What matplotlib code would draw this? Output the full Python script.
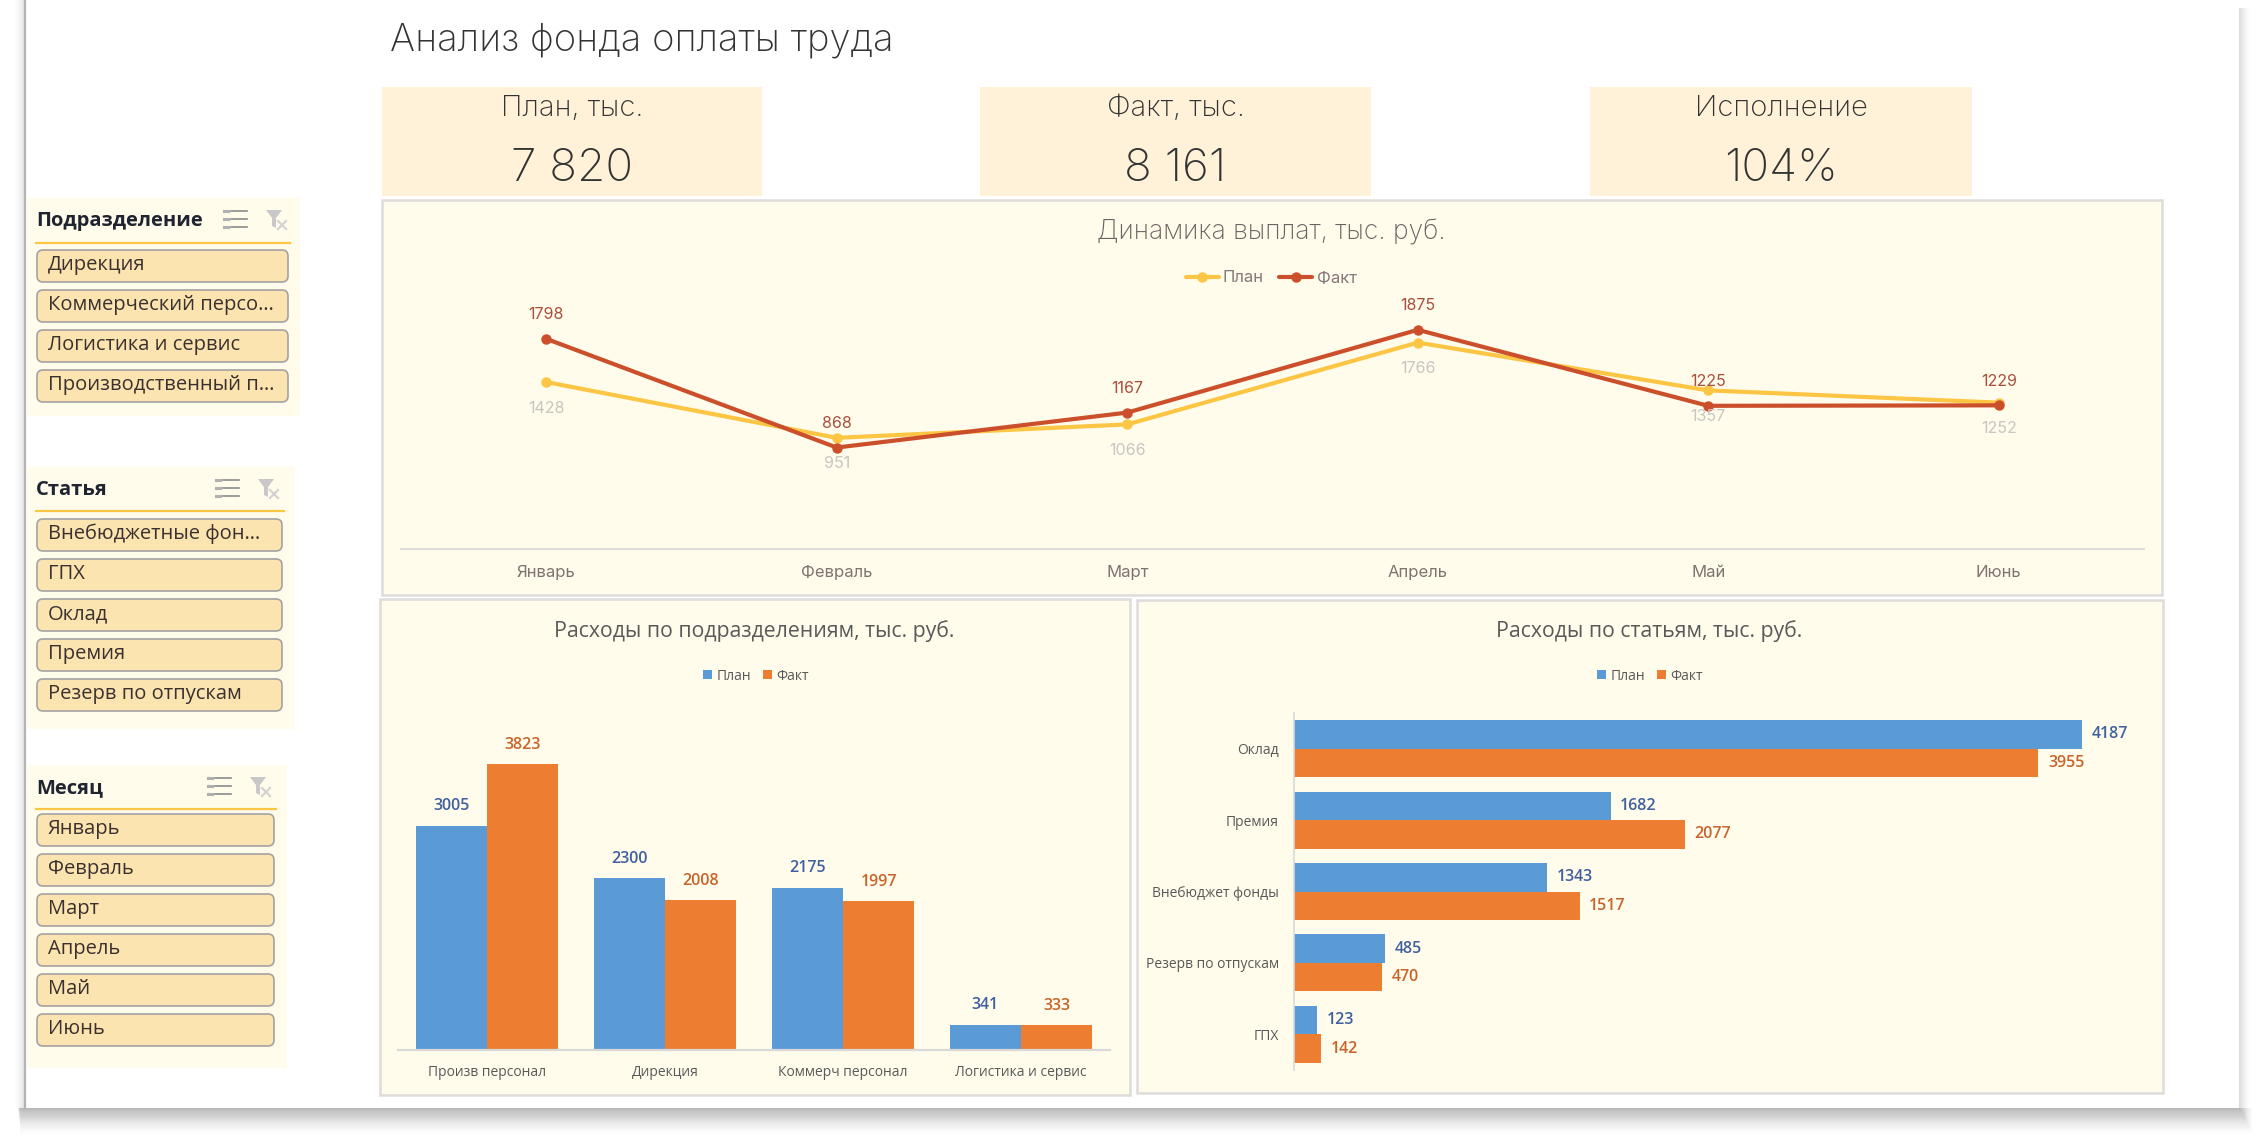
import numpy as np
import matplotlib
matplotlib.use('Agg')
import matplotlib.pyplot as plt
from matplotlib.patches import Rectangle, FancyBboxPatch, Polygon

# DATA
meses = ['Январь', 'Февраль', 'Март', 'Апрель', 'Май', 'Июнь']
plan_mes = [1428, 951, 1066, 1766, 1357, 1252]
fakt_mes = [1798, 868, 1167, 1875, 1225, 1229]

podrazd = ['Произв персонал', 'Дирекция', 'Коммерч персонал', 'Логистика и сервис']
plan_podrazd = [3005, 2300, 2175, 341]
fakt_podrazd = [3823, 2008, 1997, 333]

stati = ['Оклад', 'Премия', 'Внебюджет фонды', 'Резерв по отпускам', 'ГПХ']
plan_stati = [4187, 1682, 1343, 485, 123]
fakt_stati = [3955, 2077, 1517, 470, 142]

kpi_names = ['План, тыс.', 'Факт, тыс.', 'Исполнение']
kpi_values = ['7 820', '8 161', '104%']

slicer_titles = ['Подразделение', 'Статья', 'Месяц']
slicer_1 = ['Дирекция', 'Коммерческий персо…', 'Логистика и сервис', 'Производственный п…']
slicer_2 = ['Внебюджетные фон…', 'ГПХ', 'Оклад', 'Премия', 'Резерв по отпускам']
slicer_3 = ['Январь', 'Февраль', 'Март', 'Апрель', 'Май', 'Июнь']

# COLORES
AZUL = '#5b9bd5'
NARANJA = '#ed7d31'
AMARILLO = '#fcc644'
ROJO = '#cc4f2c'
FONDO = '#fffcec'
BORDE = '#dedcdc'
FONT_KPI = 'Inter'
FONT_OFFICE = 'Open Sans'

W, H = 2256, 1140
fig = plt.figure(figsize=(W / 100, H / 100), dpi=100, facecolor='white')

# capa de fondo en pixeles
bg = fig.add_axes([0, 0, 1, 1], zorder=0)
bg.set_xlim(0, W)
bg.set_ylim(H, 0)
bg.axis('off')


def panel_axes(x0, y0, x1, y1):
    ax = fig.add_axes([x0 / W, 1 - y1 / H, (x1 - x0) / W, (y1 - y0) / H], zorder=2)
    ax.patch.set_alpha(0)
    for s in ax.spines.values():
        s.set_visible(False)
    ax.tick_params(length=0)
    return ax


# SOMBRA DE LA HOJA
for i in range(28):
    a = 0.03 * (1 - i / 28)
    bg.add_patch(Rectangle((18 + i * 0.1, 1108), 2222 + i * 0.4, i + 1, fc='#555555', ec='none', alpha=a))
for i in range(12):
    a = 0.03 * (1 - i / 12)
    bg.add_patch(Rectangle((2239, 8), i + 1, 1100, fc='#555555', ec='none', alpha=a))
    bg.add_patch(Rectangle((25 - i, 0), i + 1, 1108, fc='#555555', ec='none', alpha=a))
bg.plot([25, 25], [0, 1108], c='#b4b4b4', lw=1.6)
bg.add_patch(Rectangle((26, 0), 2213, 1108, fc='white', ec='none'))

# TITULO
bg.text(390, 40, 'Анализ фонда оплаты труда', family=FONT_KPI, weight='light', fontsize=27.5,
        color='#333333', va='center', ha='left')

# KPI
kpi_boxes = [(382, 762), (980, 1371), (1590, 1972)]
for (x0, x1), nombre, valor in zip(kpi_boxes, kpi_names, kpi_values):
    bg.add_patch(Rectangle((x0, 87), x1 - x0, 109, fc='#fff2d9', ec='none'))
    bg.text((x0 + x1) / 2, 109, nombre, family=FONT_KPI, weight='light', fontsize=21,
            color='#333333', ha='center', va='center')
    bg.text((x0 + x1) / 2, 169, valor, family=FONT_KPI, weight='light', fontsize=33,
            color='#333333', ha='center', va='center')

# PANELES
for x0, y0, x1, y1 in [(382, 200, 2162, 595), (380, 599, 1130, 1095), (1137, 600, 2163, 1093)]:
    bg.add_patch(Rectangle((x0, y0), x1 - x0, y1 - y0, fc=FONDO, ec=BORDE, lw=1.8))

bg.text(1271, 232, 'Динамика выплат, тыс. руб.', family=FONT_KPI, weight='light', fontsize=19,
        color='#6f6163', ha='center', va='center')
bg.text(754, 631, 'Расходы по подразделениям, тыс. руб.', family=FONT_OFFICE, fontsize=15.3,
        color='#595959', ha='center', va='center')
bg.text(1649, 631, 'Расходы по статьям, тыс. руб.', family=FONT_OFFICE, fontsize=15.3,
        color='#595959', ha='center', va='center')


# SLICERS
def slicer(titulo, items, bx1, by0, by1, xr, head_y, line_y, first_y, ico_x):
    bg.add_patch(Rectangle((27, by0), bx1 - 27, by1 - by0, fc=FONDO, ec='none'))
    bg.text(36, head_y + 2, titulo, family=FONT_OFFICE, weight='bold', fontsize=14.5, color='#1f2430',
            ha='left', va='center')
    bg.plot([36, xr + 1], [line_y, line_y], c=AMARILLO, lw=1.6)
    for k, item in enumerate(items):
        y = first_y + 40 * k
        bg.add_patch(FancyBboxPatch((37, y + 1), xr - 38, 32, boxstyle='round,pad=0,rounding_size=6',
                                    fc='#fce4b0', ec='#a3a3a3', lw=1.2))
        bg.text(48, y + 16, item, family=FONT_OFFICE, fontsize=14.5, color='#3a3030', ha='left', va='center')
    # iconos
    for dy in (-8, 0, 8):
        bg.plot([ico_x + 7, ico_x + 23], [head_y + dy, head_y + dy], c='#8a8a8a', lw=1.2)
        bg.plot([ico_x, ico_x + 4], [head_y + dy, head_y + dy], c='#b0b0b0', lw=2.2)
    fx = ico_x + 42
    bg.add_patch(Polygon([(fx, head_y - 9), (fx + 16, head_y - 9), (fx + 10, head_y - 1),
                          (fx + 10, head_y + 9), (fx + 6, head_y + 7), (fx + 6, head_y - 1)],
                         fc='#c9c7c7', ec='none'))
    bg.plot([fx + 12, fx + 20], [head_y + 2, head_y + 10], c='#d5d3d3', lw=1.6)
    bg.plot([fx + 12, fx + 20], [head_y + 10, head_y + 2], c='#d5d3d3', lw=1.6)


slicer(slicer_titles[0], slicer_1, 300, 198, 416, 289, 219, 243, 249, 224)
slicer(slicer_titles[1], slicer_2, 295, 467, 729, 283, 488, 511, 518, 216)
slicer(slicer_titles[2], slicer_3, 287, 765, 1068, 275, 786, 809, 813, 208)

# GRAFICA DE LINEAS
ax1 = panel_axes(401, 250, 2144, 549)
xs = np.arange(len(meses))
ax1.plot(xs, plan_mes, c=AMARILLO, lw=3, marker='o', ms=6.5, label='План', solid_capstyle='round')
ax1.plot(xs, fakt_mes, c=ROJO, lw=3, marker='o', ms=6.5, label='Факт', solid_capstyle='round')
ax1.set_xlim(-0.5, 5.5)
ax1.set_ylim(0, 2558)
ax1.set_yticks([])
ax1.set_xticks(xs)
ax1.set_xticklabels(meses, family=FONT_KPI, fontsize=12, color='#7f7272')
ax1.tick_params(axis='x', pad=11.5)
ax1.spines['bottom'].set_visible(True)
ax1.spines['bottom'].set_color('#dedcdc')
ax1.spines['bottom'].set_linewidth(1.6)
for i in range(len(meses)):
    ax1.annotate(str(fakt_mes[i]), (xs[i], fakt_mes[i]), xytext=(0, 24), textcoords='offset pixels',
                 ha='center', va='center', family=FONT_KPI, fontsize=11.5, color='#a84f3c')
    ax1.annotate(str(plan_mes[i]), (xs[i], plan_mes[i]), xytext=(0, -26), textcoords='offset pixels',
                 ha='center', va='center', family=FONT_KPI, fontsize=11.5, color='#c9c5c1')
ax1.legend(loc='center', bbox_to_anchor=(1271 / W, 1 - 278 / H), bbox_transform=fig.transFigure, ncol=2,
           frameon=False, handlelength=2, handletextpad=0.25, columnspacing=0.9,
           prop={'family': FONT_KPI, 'size': 12}, labelcolor='#85777a')

# BARRAS POR SUBDIVISION
ax2 = panel_axes(398, 700, 1110, 1050)
xb = np.arange(len(podrazd))
b1 = ax2.bar(xb - 0.2, plan_podrazd, 0.4, color=AZUL, label='План')
b2 = ax2.bar(xb + 0.2, fakt_podrazd, 0.4, color=NARANJA, label='Факт')
ax2.set_xlim(-0.5, 3.5)
ax2.set_ylim(0, 4685)
ax2.set_yticks([])
ax2.set_xticks(xb)
ax2.set_xticklabels(podrazd, family=FONT_OFFICE, fontsize=10, color='#595959')
ax2.tick_params(axis='x', pad=11)
ax2.spines['bottom'].set_visible(True)
ax2.spines['bottom'].set_color('#d9d9d9')
ax2.spines['bottom'].set_linewidth(1.6)
ax2.bar_label(b1, padding=8, family=FONT_OFFICE, weight='semibold', fontsize=11.5, color='#3f5f9f')
ax2.bar_label(b2, padding=8, family=FONT_OFFICE, weight='semibold', fontsize=11.5, color='#c8632a')
ax2.legend(loc='center', bbox_to_anchor=(756 / W, 1 - 676 / H), bbox_transform=fig.transFigure, ncol=2,
           frameon=False, handlelength=0.65, handleheight=0.65, handletextpad=0.3, columnspacing=0.9,
           prop={'family': FONT_OFFICE, 'size': 10}, labelcolor='#595959')

# BARRAS POR ARTICULO
ax3 = panel_axes(1294, 713, 2140, 1070)
yb = np.arange(len(stati))
b3 = ax3.barh(yb - 0.2, plan_stati, 0.4, color=AZUL, label='План')
b4 = ax3.barh(yb + 0.2, fakt_stati, 0.4, color=NARANJA, label='Факт')
ax3.set_ylim(4.5, -0.5)
ax3.set_xlim(0, 4495)
ax3.set_xticks([])
ax3.set_yticks(yb)
ax3.set_yticklabels(stati, family=FONT_OFFICE, fontsize=10, color='#595959')
ax3.tick_params(axis='y', pad=11)
ax3.spines['left'].set_visible(True)
ax3.spines['left'].set_color('#d9d9d9')
ax3.spines['left'].set_linewidth(1.2)
ax3.bar_label(b3, padding=7, family=FONT_OFFICE, weight='semibold', fontsize=11.5, color='#3f5f9f')
ax3.bar_label(b4, padding=7, family=FONT_OFFICE, weight='semibold', fontsize=11.5, color='#c8632a')
ax3.legend(loc='center', bbox_to_anchor=(1650 / W, 1 - 676 / H), bbox_transform=fig.transFigure, ncol=2,
           frameon=False, handlelength=0.65, handleheight=0.65, handletextpad=0.3, columnspacing=0.9,
           prop={'family': FONT_OFFICE, 'size': 10}, labelcolor='#595959')

plt.savefig('out.png', dpi=100)
plt.close()
